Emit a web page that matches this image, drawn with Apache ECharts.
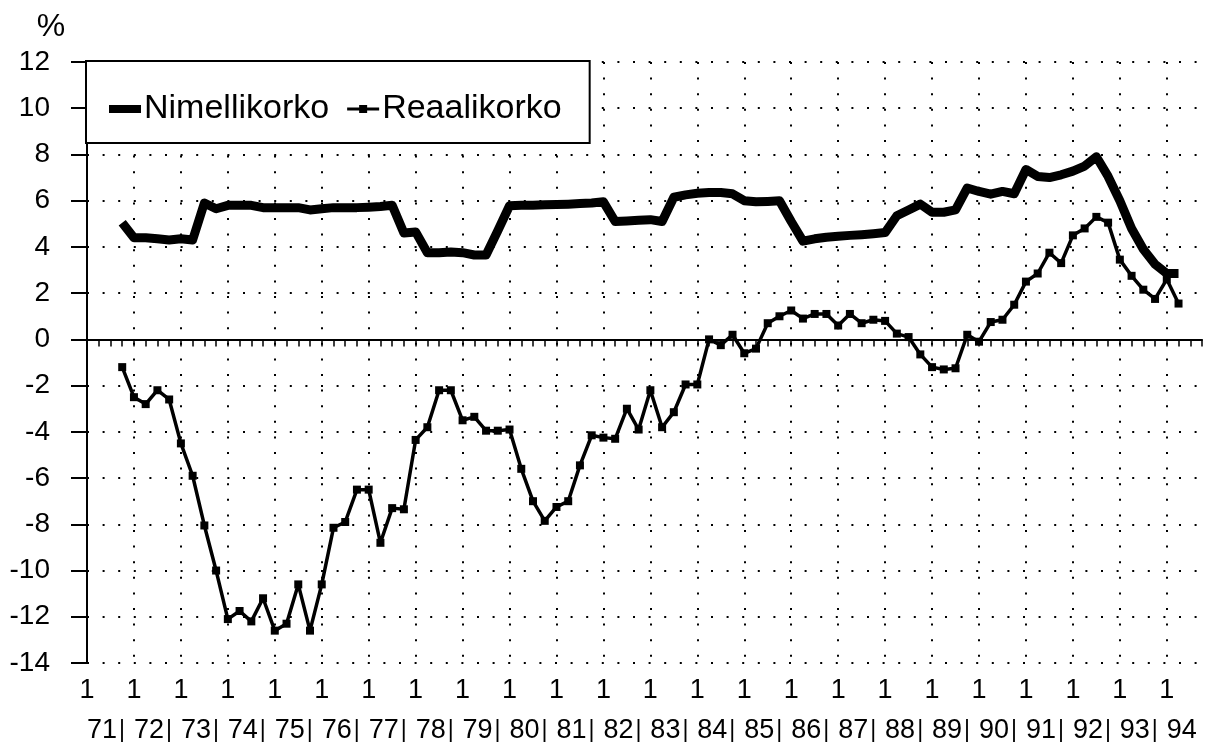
<!DOCTYPE html>
<html>
<head>
<meta charset="utf-8">
<script src="https://cdn.jsdelivr.net/npm/echarts@6/dist/echarts.min.js"></script>
<style>
  html, body { margin: 0; padding: 0; background: #fff; }
  #chart { width: 1217px; height: 749px; }
</style>
</head>
<body>
<div id="chart"></div>
<script>
// ---- data ----
const yearLabels = ['71','72','73','74','75','76','77','78','79','80','81','82',
                    '83','84','85','86','87','88','89','90','91','92','93','94'];
const quarterNumbers = ['1','2','3','4'];
const quarterTickLabel = '1';
const startQuarterIndex = 3; // first value = 1971 Q4
const seriesNames = ['Nimellikorko', 'Reaalikorko'];
const yAxisName = '%';
const yTicks = { min: -14, max: 12, interval: 2 };

const nimellikorko = [
  5.05, 4.4, 4.4, 4.35, 4.3, 4.35, 4.3, 5.9, 5.65, 5.8, 5.8, 5.8,
  5.7, 5.7, 5.7, 5.7, 5.6, 5.65, 5.7, 5.7, 5.7, 5.72, 5.75, 5.8,
  4.6, 4.65, 3.75, 3.75, 3.78, 3.75, 3.65, 3.65, 4.7, 5.78, 5.8, 5.8,
  5.82, 5.83, 5.85, 5.88, 5.9, 5.95, 5.1, 5.12, 5.15, 5.18, 5.1, 6.15,
  6.25, 6.32, 6.35, 6.35, 6.3, 6.0, 5.95, 5.97, 6.0, 5.1, 4.25, 4.35,
  4.42, 4.46, 4.5, 4.53, 4.57, 4.62, 5.35, 5.6, 5.85, 5.5, 5.5, 5.6,
  6.55, 6.4, 6.28, 6.4, 6.3, 7.35, 7.05, 7.0, 7.12, 7.28, 7.5, 7.9,
  7.05, 6.0, 4.8, 3.9, 3.25, 2.85, 2.85
];
const reaalikorko = [
  -1.2, -2.5, -2.8, -2.2, -2.6, -4.5, -5.9, -8.05, -10.0, -12.1, -11.75, -12.2,
  -11.2, -12.6, -12.3, -10.6, -12.6, -10.6, -8.15, -7.9, -6.5, -6.5, -8.8, -7.3,
  -7.35, -4.35, -3.8, -2.2, -2.2, -3.5, -3.35, -3.95, -3.95, -3.9, -5.6, -7.0,
  -7.85, -7.25, -7.0, -5.45, -4.15, -4.25, -4.3, -3.0, -3.9, -2.2, -3.8, -3.15,
  -1.95, -1.95, 0.0, -0.25, 0.2, -0.6, -0.4, 0.7, 1.0, 1.25, 0.9, 1.1,
  1.1, 0.6, 1.1, 0.7, 0.85, 0.8, 0.25, 0.1, -0.65, -1.2, -1.3, -1.25,
  0.2, -0.1, 0.75, 0.85, 1.5, 2.5, 2.85, 3.75, 3.3, 4.5, 4.8, 5.3,
  5.05, 3.45, 2.75, 2.15, 1.75, 2.6, 1.55
];

// ---- build ----
const categories = [];
yearLabels.forEach(y => quarterNumbers.forEach(q => categories.push(y + '/' + q)));
const toPairs = arr => arr.map((v, i) => [categories[startQuarterIndex + i], v]);

const FONT = '"Liberation Sans", Arial, Helvetica, sans-serif';
const dotted = { color: '#000', width: 2, type: [2, 13.6] };

const chart = echarts.init(document.getElementById('chart'), null, { renderer: 'canvas' });
chart.setOption({
  animation: false,
  backgroundColor: '#fff',
  textStyle: { fontFamily: FONT, color: '#000' },
  grid: { left: 87, right: 15, top: 62, bottom: 86, containLabel: false, outerBoundsMode: 'none' },
  legend: {
    data: [
      { name: seriesNames[0], icon: 'rect', itemStyle: { color: '#000' } },
      { name: seriesNames[1], icon: 'path://M0,2.5H32V5.5H0Z M12,0H20V8H12Z', itemStyle: { color: '#000' } }
    ],
    left: 86, top: 61,
    orient: 'horizontal',
    padding: [31, 28, 17, 23],
    itemGap: 18,
    itemWidth: 32,
    itemHeight: 8,
    backgroundColor: '#fff',
    borderColor: '#000',
    borderWidth: 2,
    borderRadius: 0,
    textStyle: { fontSize: 34, color: '#000', fontFamily: FONT, padding: [0, 0, 0, -2] },
    z: 10
  },
  xAxis: [
    {
      type: 'category',
      data: categories,
      boundaryGap: false,
      axisLine: { show: true, lineStyle: { color: '#000', width: 2 } },
      axisTick: { show: true, interval: 0, length: 7, lineStyle: { color: '#000', width: 1.5 } },
      axisLabel: {
        interval: 3, margin: 14, fontSize: 27, color: '#000', fontFamily: FONT,
        formatter: () => quarterTickLabel
      },
      splitLine: { show: true, interval: 3, lineStyle: dotted }
    },
    {
      type: 'category',
      data: categories,
      boundaryGap: false,
      position: 'bottom',
      axisLine: { show: false },
      axisTick: { show: false },
      splitLine: { show: false },
      axisLabel: {
        interval: 3, margin: 54, align: 'left', color: '#000', fontFamily: FONT,
        formatter: (v, idx) => {
          const y = yearLabels[Math.floor(idx / 4)];
          return idx / 4 === yearLabels.length - 1 ? '{y|' + y + '}' : '{y|' + y + '}{b||}';
        },
        rich: {
          y: { fontSize: 27, fontFamily: FONT, color: '#000' },
          b: { fontSize: 23, fontFamily: FONT, color: '#000', padding: [0, 0, 0, 2] }
        }
      }
    }
  ],
  yAxis: {
    type: 'value',
    min: yTicks.min, max: yTicks.max, interval: yTicks.interval,
    name: '{p|' + yAxisName + '}',
    nameLocation: 'end',
    nameGap: 19,
    nameTextStyle: {
      fontSize: 32, color: '#000', fontFamily: FONT, padding: [0, 72, 0, 0],
      rich: { p: { fontSize: 32, fontFamily: FONT, color: '#000' } }
    },
    axisLine: { show: true, lineStyle: { color: '#000', width: 2 } },
    axisTick: { show: true, length: 16, lineStyle: { color: '#000', width: 2 } },
    axisLabel: { fontSize: 28, margin: 37, color: '#000', fontFamily: FONT },
    splitLine: { show: true, lineStyle: dotted }
  },
  series: [
    {
      name: seriesNames[0],
      type: 'line',
      data: toPairs(nimellikorko),
      symbol: 'none',
      lineStyle: { color: '#000', width: 9, join: 'round' },
      itemStyle: { color: '#000' },
      z: 3
    },
    {
      name: seriesNames[1],
      type: 'line',
      data: toPairs(reaalikorko),
      symbol: 'rect',
      symbolSize: 8,
      showSymbol: true,
      showAllSymbol: true,
      lineStyle: { color: '#000', width: 3.5 },
      itemStyle: { color: '#000' },
      z: 4,
      markLine: {
        silent: true,
        symbol: 'none',
        label: { show: false },
        lineStyle: { color: '#000', width: 1.5, type: 'solid' },
        data: [{ yAxis: 0 }]
      }
    }
  ]
});
</script>
</body>
</html>
